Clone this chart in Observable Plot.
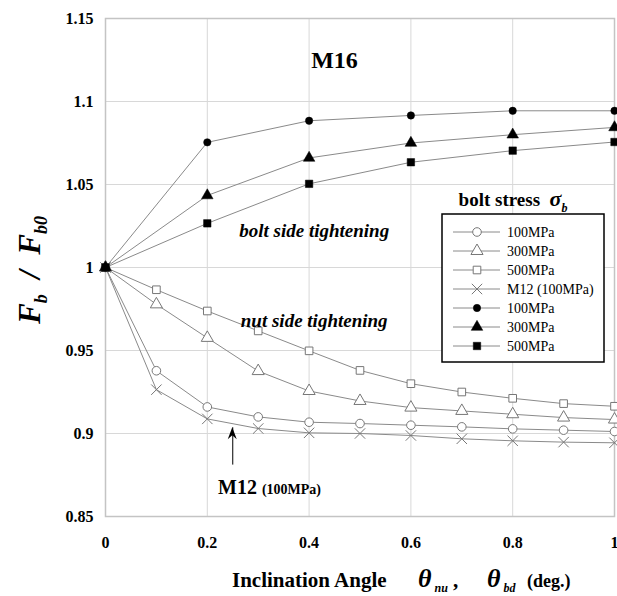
<!DOCTYPE html>
<html><head><meta charset="utf-8">
<script src="https://cdn.jsdelivr.net/npm/d3@7"></script>
<script src="https://cdn.jsdelivr.net/npm/@observablehq/plot@0.6"></script>
<style>body{margin:0;background:#fff}</style>
</head><body><div id="chart"></div>
<script>
// ---- data ----
const xNut = [0, 0.1, 0.2, 0.3, 0.4, 0.5, 0.6, 0.7, 0.8, 0.9, 1.0];
const xBolt = [0, 0.2, 0.4, 0.6, 0.8, 1.0];
const nut100 = [1, 0.9378, 0.916, 0.910, 0.9068, 0.906, 0.905, 0.904, 0.9028, 0.902, 0.9012];
const nut300 = [1, 0.9778, 0.9576, 0.9376, 0.9256, 0.9196, 0.9156, 0.9136, 0.9116, 0.9096, 0.9084];
const nut500 = [1, 0.9866, 0.9738, 0.9618, 0.9498, 0.938, 0.930, 0.925, 0.9212, 0.918, 0.9164];
const nutM12 = [1, 0.9264, 0.9088, 0.903, 0.9004, 0.900, 0.8988, 0.8968, 0.8956, 0.8948, 0.8944];
const bolt100 = [1, 1.0754, 1.0884, 1.0916, 1.0944, 1.0944];
const bolt300 = [1, 1.0434, 1.066, 1.075, 1.08, 1.0844];
const bolt500 = [1, 1.0266, 1.0504, 1.0634, 1.0704, 1.0756];
const xTicks = [0, 0.2, 0.4, 0.6, 0.8, 1];
const yTicks = [0.85, 0.9, 0.95, 1, 1.05, 1.1, 1.15];
const legendLabels = ["100MPa", "300MPa", "500MPa", "M12 (100MPa)", "100MPa", "300MPa", "500MPa"];
const titleNote = [{x: 0.45, y: 1.125, text: "M16"}];
const sideNotes = [
  {x: 0.41, y: 1.022, text: "bolt side tightening"},
  {x: 0.41, y: 0.968, text: "nut side tightening"}
];
const arrowX = 0.25, arrowTip = 0.9035, arrowBase = 0.8815;

// ---- build series ----
const series = [
  {key: "nut100", xs: xNut, ys: nut100, symbol: "circle", filled: false, r: 4.3},
  {key: "nut300", xs: xNut, ys: nut300, symbol: "triangle", filled: false, r: 4.5},
  {key: "nut500", xs: xNut, ys: nut500, symbol: "square", filled: false, r: 4.3},
  {key: "nutM12", xs: xNut, ys: nutM12, symbol: "times", filled: false, r: 4.8},
  {key: "bolt100", xs: xBolt, ys: bolt100, symbol: "circle", filled: true, r: 3.7},
  {key: "bolt300", xs: xBolt, ys: bolt300, symbol: "triangle", filled: true, r: 4.3},
  {key: "bolt500", xs: xBolt, ys: bolt500, symbol: "square", filled: true, r: 4.2}
];
series.forEach((s, i) => s.label = legendLabels[i]);
const rows = series.flatMap(s => s.xs.map((x, i) => ({key: s.key, x, y: s.ys[i]})));
const lineCol = "#8a8a8a";
const fmt = d => String(+d.toFixed(2));
const serif = "'Liberation Serif', 'Times New Roman', serif";

const marks = [
  Plot.gridX(xTicks, {stroke: "#d8d8d8", strokeOpacity: 1}),
  Plot.gridY(yTicks, {stroke: "#d8d8d8", strokeOpacity: 1}),
  Plot.frame({stroke: "#c4c4c4", strokeWidth: 1.5}),
  Plot.axisX({ticks: xTicks, tickFormat: fmt, tickSize: 0, tickPadding: 20, fontSize: 16, fontWeight: "bold", label: null}),
  Plot.axisY({ticks: yTicks, tickFormat: fmt, tickSize: 0, tickPadding: 12, fontSize: 16, fontWeight: "bold", label: null}),
  ...series.map(s => Plot.line(rows.filter(d => d.key === s.key), {x: "x", y: "y", stroke: lineCol, strokeWidth: 1})),
  ...series.map(s => Plot.dot(rows.filter(d => d.key === s.key), {
    x: "x", y: "y", symbol: () => s.symbol, r: s.r,
    fill: s.filled ? "#000" : (s.symbol === "times" ? "none" : "#fff"),
    stroke: s.filled ? "#000" : "#777", strokeWidth: s.filled ? 0.5 : 1
  })),
  Plot.text(titleNote, {x: "x", y: "y", text: "text", fontSize: 24, fontWeight: "bold", fill: "#000"}),
  Plot.text(sideNotes, {x: "x", y: "y", text: "text", fontSize: 19, fontWeight: "bold", fontStyle: "italic", fill: "#000"}),
  Plot.arrow([{x: arrowX, y1: arrowBase, y2: arrowTip}], {x: "x", y1: "y1", y2: "y2", stroke: "#000", strokeWidth: 1, headLength: 0})
];

const plot = Plot.plot({
  width: 617, height: 596,
  marginLeft: 105, marginRight: 3, marginTop: 18, marginBottom: 80,
  style: {fontFamily: serif, color: "#000", background: "#fff"},
  x: {domain: [0, 1]},
  y: {domain: [0.85, 1.15]},
  symbol: {type: "ordinal"},
  marks
});
document.getElementById("chart").appendChild(plot);

// ---- overlays: axis titles, arrow head, M12 label, legend ----
const svg = d3.select(plot);
const X = plot.scale("x"), Y = plot.scale("y");
const g = svg.append("g").attr("font-family", serif).attr("fill", "#000").attr("text-anchor", "start");

// arrowhead
const ax = X.apply(arrowX), ay = Y.apply(arrowTip);
g.append("path").attr("d", `M${ax},${ay} L${ax - 4.5},${ay + 12} L${ax},${ay + 8} L${ax + 4.5},${ay + 12} Z`).attr("fill", "#000");
// M12 label
const m12 = g.append("text").attr("x", 218).attr("y", Y.apply(0.868) + 8).attr("font-weight", "bold");
m12.append("tspan").attr("font-size", 20).text("M12 ");
m12.append("tspan").attr("font-size", 14).text("(100MPa)");

// y title
const yt = g.append("text").attr("transform", "translate(40,270) rotate(-90)").attr("text-anchor", "middle")
  .attr("font-weight", "bold").attr("font-style", "italic").attr("font-size", 31);
yt.append("tspan").text("F");
yt.append("tspan").attr("font-size", 18).attr("dy", 7).text("b");
yt.append("tspan").attr("dy", -7).text("  /  F");
yt.append("tspan").attr("font-size", 18).attr("dy", 7).text("b0");

// x title
const xt = g.append("text").attr("x", 232).attr("y", 587).attr("text-anchor", "start")
  .attr("font-weight", "bold").attr("font-size", 21);
xt.append("tspan").text("Inclination Angle");
xt.append("tspan").attr("x", 418).attr("font-style", "italic").attr("font-size", 26).text("θ");
xt.append("tspan").attr("font-style", "italic").attr("font-size", 12).attr("dy", 5).text(" nu");
xt.append("tspan").attr("dy", -5).text(" , ");
xt.append("tspan").attr("x", 487).attr("font-style", "italic").attr("font-size", 26).text("θ");
xt.append("tspan").attr("font-style", "italic").attr("font-size", 12).attr("dy", 5).text(" bd");
xt.append("tspan").attr("dy", -5).attr("x", 527).attr("font-size", 18).text("(deg.)");

// legend
const lx = 442, ly = 214, lw = 162, lh = 148;
const lt = g.append("text").attr("x", 513).attr("y", 206).attr("text-anchor", "middle")
  .attr("font-weight", "bold").attr("font-size", 19);
lt.append("tspan").text("bolt stress  ");
lt.append("tspan").attr("font-style", "italic").attr("font-size", 22).text("σ");
lt.append("tspan").attr("font-style", "italic").attr("font-size", 12).attr("dy", 6).text("b");
g.append("rect").attr("x", lx).attr("y", ly).attr("width", lw).attr("height", lh)
  .attr("fill", "#fff").attr("stroke", "#000").attr("stroke-width", 1.5);
const symMap = {circle: d3.symbolCircle, triangle: d3.symbolTriangle, square: d3.symbolSquare, times: d3.symbolTimes};
series.forEach((s, i) => {
  const y = 232 + i * 19;
  g.append("line").attr("x1", 453).attr("x2", 500).attr("y1", y).attr("y2", y).attr("stroke", lineCol);
  g.append("path").attr("transform", `translate(477,${y})`)
    .attr("d", d3.symbol(symMap[s.symbol], Math.PI * s.r * s.r)())
    .attr("fill", s.filled ? "#000" : (s.symbol === "times" ? "none" : "#fff"))
    .attr("stroke", s.filled ? "#000" : "#777").attr("stroke-width", s.filled ? 0.5 : 1);
  g.append("text").attr("x", 507).attr("y", y + 5).attr("font-size", 14).text(s.label);
});
</script>
</body></html>
